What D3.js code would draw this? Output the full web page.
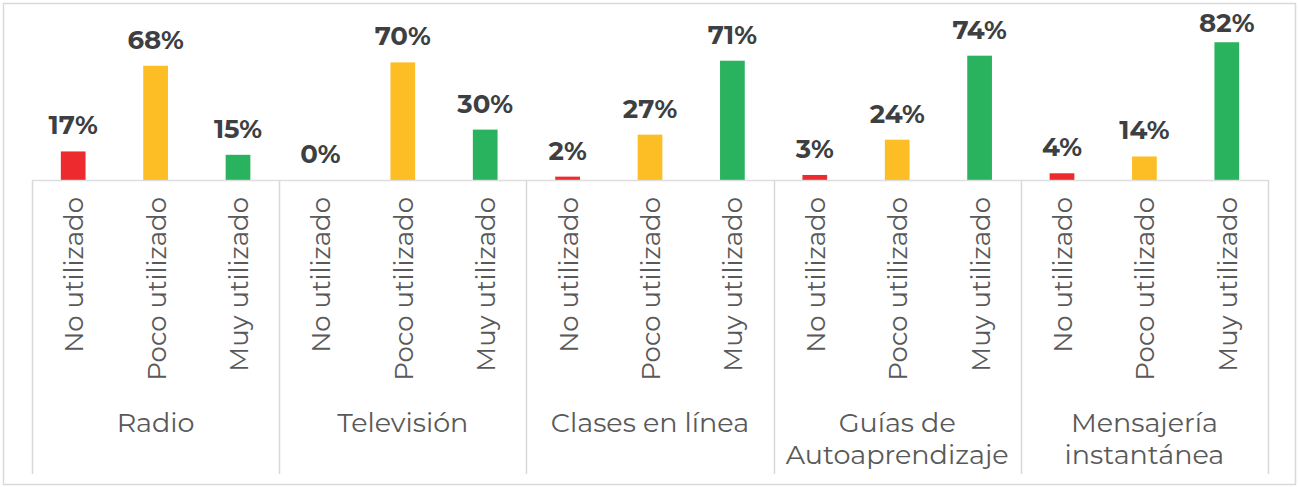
<!DOCTYPE html>
<html>
<head>
<meta charset="utf-8">
<script src="https://cdn.jsdelivr.net/npm/d3@7"></script>
<style>
  body { margin: 0; background: #fff; }
  svg { display: block; font-family: Montserrat, "DejaVu Sans", sans-serif; }
</style>
</head>
<body>
<div id="chart"></div>
<script>
// data
var groups = ["Radio", "Televisión", "Clases en línea", "Guías de\nAutoaprendizaje", "Mensajería\ninstantánea"];
var series = ["No utilizado", "Poco utilizado", "Muy utilizado"];
var colors = ["#ed2b2e", "#fdbd24", "#2ab35e"];
var noUtilizado = [17, 0, 2, 3, 4];
var pocoUtilizado = [68, 70, 27, 24, 14];
var muyUtilizado = [15, 30, 71, 74, 82];

var W = 1299, H = 487;
var margin = {top: 12, left: 32, right: 31},
  baseY = 180;

var svg = d3.select("#chart").append("svg")
  .attr("width", W)
  .attr("height", H);

// outer frame
svg.append("rect")
  .attr("x", 3.5).attr("y", 3.5)
  .attr("width", W - 7).attr("height", H - 6)
  .attr("fill", "#fff")
  .attr("stroke", "#d9d9d9")
  .attr("stroke-width", 1.5);

var x0 = d3.scaleBand()
  .domain(groups)
  .range([margin.left, W - margin.right]);

var x1 = d3.scaleBand()
  .domain(series)
  .range([0, x0.bandwidth()])
  .paddingInner(0.7)
  .paddingOuter(0.35);

var y = d3.scaleLinear()
  .domain([0, 100])
  .range([baseY, baseY - 168]);

var rows = [];
groups.forEach(function(g, i) {
  [noUtilizado, pocoUtilizado, muyUtilizado].forEach(function(arr, j) {
    rows.push({group: g, serie: series[j], value: arr[i], color: colors[j]});
  });
});

// bars
svg.selectAll("rect.bar")
  .data(rows)
  .enter().append("rect")
    .attr("class", "bar")
    .attr("x", function(d) { return x0(d.group) + x1(d.serie); })
    .attr("y", function(d) { return y(d.value); })
    .attr("width", x1.bandwidth())
    .attr("height", function(d) { return baseY - y(d.value); })
    .attr("fill", function(d) { return d.color; });

// value labels (kept inside the frame for tall bars)
svg.selectAll("text.val")
  .data(rows)
  .enter().append("text")
    .attr("class", "val")
    .attr("x", function(d) { return x0(d.group) + x1(d.serie) + x1.bandwidth() / 2; })
    .attr("y", function(d) { return Math.max(y(d.value) - 17, 32); })
    .attr("text-anchor", "middle")
    .attr("font-size", 26)
    .attr("font-weight", "bold")
    .attr("fill", "#3d3f42")
    .text(function(d) { return d.value + "%"; });

// axis lines
var axisColor = "#d9d9d9";
svg.append("line")
  .attr("x1", margin.left).attr("x2", W - margin.right)
  .attr("y1", baseY + 0.5).attr("y2", baseY + 0.5)
  .attr("stroke", axisColor).attr("stroke-width", 1.5).attr("opacity", 0.85);

var bounds = groups.map(function(g) { return x0(g); }).concat([W - margin.right]);
svg.selectAll("line.sep")
  .data(bounds)
  .enter().append("line")
    .attr("class", "sep")
    .attr("x1", function(d) { return Math.round(d) + 0.5; })
    .attr("x2", function(d) { return Math.round(d) + 0.5; })
    .attr("y1", baseY).attr("y2", 474)
    .attr("stroke", axisColor).attr("stroke-width", 1.5);

// rotated category labels
svg.selectAll("text.cat")
  .data(rows)
  .enter().append("text")
    .attr("class", "cat")
    .attr("transform", function(d) {
      var cx = x0(d.group) + x1(d.serie) + x1.bandwidth() / 2;
      return "translate(" + cx + ",197) rotate(-90)";
    })
    .attr("dy", 10)
    .attr("text-anchor", "end")
    .attr("font-size", 26)
    .attr("fill", "#595959")
    .text(function(d) { return d.serie; });

// group labels
var gl = svg.selectAll("text.grp")
  .data(groups)
  .enter().append("text")
    .attr("class", "grp")
    .attr("text-anchor", "middle")
    .attr("font-size", 27)
    .attr("fill", "#595959");

gl.selectAll("tspan")
  .data(function(d) { return d.split("\n").map(function(t) { return {g: d, t: t}; }); })
  .enter().append("tspan")
    .attr("x", function(d) { return x0(d.g) + x0.bandwidth() / 2; })
    .attr("y", function(d, i) { return 432 + i * 32; })
    .text(function(d) { return d.t; });
</script>
</body>
</html>
